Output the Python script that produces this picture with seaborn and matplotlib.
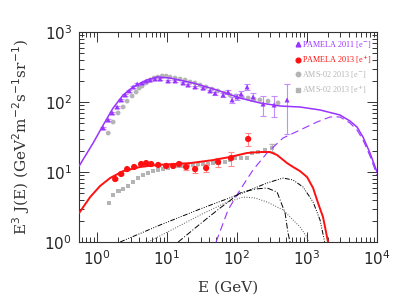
import numpy as np
import pandas as pd
import matplotlib
matplotlib.use("Agg")
import matplotlib.pyplot as plt
import seaborn as sns
from matplotlib.lines import Line2D

# ---------------- data ----------------
# PAMELA 2011 electrons
pam_e_E = [1.22, 1.44, 1.64, 1.93, 2.20, 2.51, 2.87, 3.27, 3.73, 4.39, 5.01, 5.71, 6.74, 7.94,
           10.3, 13.0, 16.9, 19.9, 25.1, 32.7, 41.1, 48.5, 63.1, 74.3, 84.8, 100, 114, 139,
           169, 235, 338, 518]
pam_e_J = [42.5, 55.3, 69.7, 84.8, 107, 126, 144, 164, 181, 187, 200, 206, 213, 213,
           200, 200, 187, 175, 164, 158, 144, 134, 126, 139, 107, 118, 130, 164,
           118, 93.6, 90.6, 107]
pam_e_err = [1.5, 1.8, 2.2, 2.6, 3.2, 3.6, 4.0, 4.4, 4.8, 4.8, 5.0, 5.0, 5.2, 5.2,
             5.0, 5.2, 5.0, 5.0, 5.0, 5.5, 6.0, 7.0, 8.0, 9.0, 9.0, 11, 12, 14,
             16, 30, 30, 72]

# PAMELA 2013 positrons
pam_p_E = [1.81, 2.20, 2.68, 3.38, 4.25, 5.01, 5.91, 7.44, 9.68, 12.2, 14.8, 18.7, 25.1,
           36.1, 53.5, 82, 144]
pam_p_J = [7.94, 9.36, 11.0, 11.8, 13.0, 13.4, 13.0, 12.6, 12.2, 12.2, 13.0, 11.8, 11.0,
           11.4, 13.9, 15.8, 29.6]
pam_p_err = [0.3, 0.3, 0.3, 0.3, 0.3, 0.3, 0.3, 0.3, 0.4, 0.5, 0.8, 1.0, 1.2,
             1.5, 2.0, 3.5, 6.0]

# AMS-02 2013 electrons
ams_e_E = [1.44, 1.69, 1.99, 2.35, 2.68, 3.16, 3.6, 3.98, 4.39, 5.0, 5.7, 6.5, 7.4, 8.5,
           9.7, 11.0, 13.0, 15.3, 18.1, 21.3, 25.0, 29.6, 36.0, 44.0, 53.0, 65.0, 79.0,
           96.0, 118, 144, 175, 212, 277, 385]
ams_e_J = [36, 51.8, 69.7, 84.8, 103, 122, 139, 158, 169, 187, 206, 220, 227, 235,
           235, 227, 220, 213, 206, 193, 187, 175, 164, 153, 144, 134, 126,
           122, 118, 114, 110, 107, 103, 97]

# AMS-02 2013 positrons
ams_p_E = [1.48, 1.69, 2.0, 2.35, 2.77, 3.27, 3.85, 4.54, 5.35, 6.31, 7.44, 8.77, 10.3,
           12.2, 14.4, 16.9, 20.0, 23.5, 27.7, 32.7, 38.5, 45.4, 55.3, 67.4, 79.4, 93.6,
           114, 139, 164, 200, 251, 316]
ams_p_J = [3.61, 4.69, 5.35, 5.71, 6.31, 7.2, 8.2, 9.06, 9.68, 10.3, 10.7, 11.0, 11.4,
           11.8, 12.2, 12.2, 12.6, 12.6, 13.0, 13.0, 13.0, 13.4, 13.4, 13.9, 14.8, 15.8,
           15.8, 15.8, 18.7, 19.3, 20.6, 22.0]

# model: total electrons (purple solid)
mod_e_E = [0.553, 0.877, 1.22, 1.69, 2.35, 3.27, 5.18, 7.2, 11.0, 23.5, 51.8, 110, 213,
           411, 794, 1535, 2960, 4110, 5180, 6310, 7940, 10000]
mod_e_J = [12.2, 26.0, 46.9, 82.1, 126, 164, 206, 228, 220, 187, 148, 114, 96.8,
           87.7, 84.8, 76.9, 65.2, 53.5, 43.9, 31.6, 18.7, 10.0]

# model: extra electron component (purple dashed)
mod_d_E = [50.1, 74.3, 110, 169, 268, 454, 794, 1390, 2130, 2960, 4110, 5180, 6310, 7940, 10000]
mod_d_J = [1.0, 2.87, 5.53, 10.7, 18.7, 30.6, 39.8, 51.8, 61.1, 61.1, 50.1, 39.8, 28.7, 16.9, 9.06]

# model: positrons (red solid)
mod_p_E = [0.553, 0.794, 1.10, 1.53, 2.35, 4.11, 7.2, 12.2, 21.3, 45.4, 79.4, 139, 213,
           296, 373, 518, 631, 794, 1000, 1220, 1435, 1690, 1995]
mod_p_J = [2.6, 4.39, 6.31, 8.2, 10.3, 11.8, 12.6, 13.0, 13.4, 14.8, 16.4, 18.7, 19.3,
           19.3, 17.5, 13.4, 11.8, 10.3, 8.48, 5.91, 3.61, 2.28, 1.0]

# black components
compA_E = [2.13, 7.94, 29.6, 110, 268, 454, 631, 877, 1220, 1535, 1785]
compA_J = [1.0, 1.75, 2.96, 4.85, 6.96, 8.2, 7.69, 6.1, 3.73, 2.06, 1.0]
compB_E = [5.35, 13.0, 29.6, 67.4, 122, 181, 268, 454, 794, 968, 1068]
compB_J = [1.0, 1.58, 2.43, 3.61, 4.39, 4.25, 3.73, 2.87, 1.64, 1.22, 1.0]
compC_E = [14.4, 29.6, 57.2, 110, 181, 268, 373, 485, 535, 571]
compC_J = [1.0, 1.81, 3.06, 5.01, 5.71, 5.91, 5.18, 2.6, 1.34, 1.0]

legend_labels = ["PAMELA 2011 [e$^{-}$]", "PAMELA 2013 [e$^{+}$]",
                 "AMS-02 2013 [e$^{-}$]", "AMS-02 2013 [e$^{+}$]"]

x_ticks = [1, 10, 100, 1000, 10000]
y_ticks = [1, 10, 100, 1000]

# ---------------- style ----------------
sns.set_style("ticks")
plt.rcParams["font.family"] = ["DejaVu Sans"]
plt.rcParams["mathtext.fontset"] = "dejavusans"

PURPLE = "#9933ff"
PURPLE_L = "#c48cff"
RED = "#ff1010"
RED_L = "#ff8c8c"
GRAY = "#b4b4b4"

fig = plt.figure(figsize=(4.07, 3.06), dpi=100)
ax = fig.add_axes([79/407, (306-242)/306, (377-79)/407, (242-32)/306])

def line(E, J, **kw):
    df = pd.DataFrame({"E": E, "J": J})
    sns.lineplot(data=df, x="E", y="J", ax=ax, estimator=None, sort=False, **kw)

# data points
df_ams_e = pd.DataFrame({"E": ams_e_E, "J": ams_e_J})
df_ams_p = pd.DataFrame({"E": ams_p_E, "J": ams_p_J})
sns.scatterplot(data=df_ams_e, x="E", y="J", ax=ax, marker="o", s=12, color=GRAY,
                edgecolor="none", zorder=2)
sns.scatterplot(data=df_ams_p, x="E", y="J", ax=ax, marker="s", s=11, color=GRAY,
                edgecolor="none", zorder=2)
ax.errorbar(ams_p_E[-1:], ams_p_J[-1:], yerr=[3.0], fmt="none", ecolor=GRAY,
            elinewidth=0.8, capsize=2, zorder=2)

ax.errorbar(pam_e_E, pam_e_J, yerr=pam_e_err, fmt="none", ecolor=PURPLE_L,
            elinewidth=0.8, capsize=2, capthick=0.8, zorder=3)
sns.scatterplot(x=pam_e_E, y=pam_e_J, ax=ax, marker="^", s=13, color=PURPLE,
                edgecolor="none", zorder=4)
ax.errorbar(pam_p_E, pam_p_J, yerr=pam_p_err, fmt="none", ecolor=RED_L,
            elinewidth=0.8, capsize=2, capthick=0.8, zorder=3)
sns.scatterplot(x=pam_p_E, y=pam_p_J, ax=ax, marker="o", s=20, color=RED,
                edgecolor="none", zorder=4)

# model curves
line(mod_e_E, mod_e_J, color=PURPLE, linewidth=1.1, zorder=5)
line(mod_d_E, mod_d_J, color=PURPLE, linewidth=0.8, dashes=(7, 4), zorder=5)
line(mod_p_E, mod_p_J, color=RED, linewidth=1.4, zorder=5)
line(compA_E, compA_J, color="black", linewidth=0.7, dashes=(5, 1.5, 1, 1.5, 1, 1.5, 1, 1.5), zorder=5)
line(compB_E, compB_J, color="#555555", linewidth=0.7, dashes=(1, 1.6), zorder=5)
line(compC_E, compC_J, color="black", linewidth=0.7, dashes=(6, 2, 1, 2), zorder=5)

ax.set_xscale("log")
ax.set_yscale("log")
ax.set_xlim(0.55, 1e4)
ax.set_ylim(1, 1000)
ax.set_xticks(x_ticks)
ax.set_yticks(y_ticks)
ax.set_xticklabels([r"$10^{%d}$" % int(np.log10(v)) for v in x_ticks])
ax.set_yticklabels([r"$10^{%d}$" % int(np.log10(v)) for v in y_ticks])
ax.tick_params(which="both", direction="in", top=True, right=True, labelsize=11,
               width=0.7, color="#333333")
ax.tick_params(which="major", length=7, pad=5)
ax.tick_params(which="minor", length=3.5)
for sp in ax.spines.values():
    sp.set_linewidth(0.8)
    sp.set_color("#333333")

ax.set_xlabel("E (GeV)", family="DejaVu Serif", fontsize=11, color="#333333")
ax.set_ylabel(r"E$^3$ J(E) (GeV$^2$m$^{-2}$s$^{-1}$sr$^{-1}$)", family="DejaVu Serif",
              fontsize=11, color="#333333")
ax.xaxis.set_label_coords(0.5, (242 - 281) / 210)
ax.yaxis.set_label_coords((32 - 79) / 298, 0.5)

# legend
handles = [
    Line2D([], [], marker="^", color=PURPLE, linestyle="none", markersize=3.4),
    Line2D([], [], marker="o", color=RED, linestyle="none", markersize=3.4),
    Line2D([], [], marker="o", color=GRAY, linestyle="none", markersize=3.2),
    Line2D([], [], marker="s", color=GRAY, linestyle="none", markersize=3.0),
]
leg = ax.legend(handles, legend_labels, loc="upper left",
                bbox_to_anchor=((296 - 79) / 298, (242 - 39) / 210),
                frameon=False, handlelength=0.5, handletextpad=0.25, labelspacing=0.4,
                prop={"family": "Liberation Serif", "size": 5.9}, borderaxespad=0.0,
                borderpad=0.0)
for txt, col in zip(leg.get_texts(), [PURPLE, RED, GRAY, GRAY]):
    txt.set_color(col)

fig.savefig("out.png", dpi=100)
